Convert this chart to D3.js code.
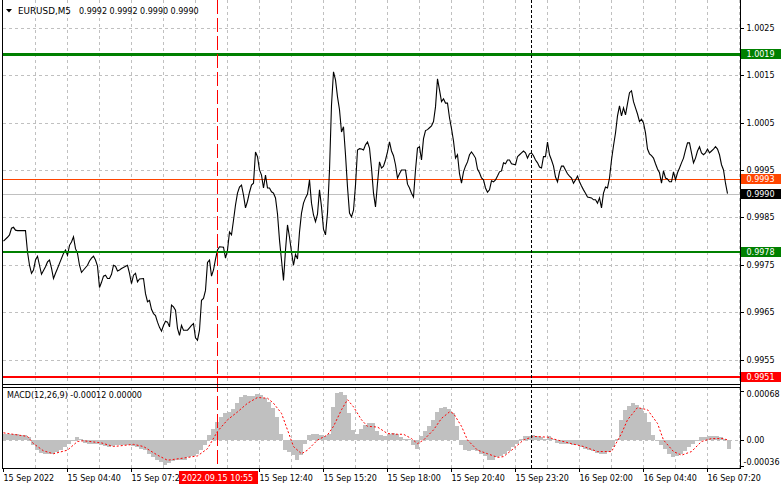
<!DOCTYPE html>
<html><head><meta charset="utf-8">
<script src="https://cdn.jsdelivr.net/npm/d3@7"></script>
<style>
body{margin:0;background:#fff}
svg{display:block;font-family:"DejaVu Sans",sans-serif;font-size:8px}
text{white-space:pre}
</style>
</head><body><svg id="c" width="781" height="489"></svg>
<script>
// ---------------- data ----------------
const symbolTitle = "EURUSD,M5";
const ohlcText = ["0.9992", "0.9992", "0.9990", "0.9990"];
const macdTitle = "MACD(12,26,9) -0.00012 0.00000";

const timeLabelBars = [0, 32, 64, 128, 160, 192, 224, 256, 288, 320, 352];
const timeLabels = ["15 Sep 2022", "15 Sep 04:40", "15 Sep 07:20", "15 Sep 12:40", "15 Sep 15:20",
  "15 Sep 18:00", "15 Sep 20:40", "15 Sep 23:20", "16 Sep 02:00", "16 Sep 04:40", "16 Sep 07:20"];
const priceTicks = [0.9955, 0.9965, 0.9975, 0.9985, 0.9995, 1.0005, 1.0015, 1.0025];
const macdTicks = [0.00068, 0, -0.00036];
const macdTickText = ["0.00068", "0.00", "-0.00036"];

// support / resistance levels
const levelVals = [1.00195, 0.99776, 0.99514];
const levelText = ["1.0019", "0.9978", "0.9951"];
const levelColors = ["#008000", "#008000", "#ff0000"];
const askPrice = 0.9993, bidPrice = 0.9990;

// markers
const markerBar = 107;             // 2022.09.15 10:55
const markerText = "2022.09.15 10:55";
const daySepBar = 264;             // 16 Sep 00:00

// close prices [bar, close]
const closeSeries = [
[0,0.99800],[2,0.99808],[3,0.99813],[4,0.99827],[5,0.99829],[6,0.99823],[7,0.99822],[11,0.99822],[12,0.99777],
[13,0.99749],[14,0.99732],[15,0.99739],[16,0.99760],[17,0.99768],[18,0.99749],[19,0.99730],[21,0.99746],[22,0.99756],
[23,0.99760],[24,0.99743],[25,0.99721],[26,0.99732],[27,0.99742],[28,0.99753],[30,0.99774],[31,0.99781],[32,0.99770],
[33,0.99791],[34,0.99798],[35,0.99809],[36,0.99784],[37,0.99774],[38,0.99749],[39,0.99734],[40,0.99739],[42,0.99749],
[43,0.99758],[44,0.99764],[45,0.99768],[46,0.99760],[47,0.99747],[48,0.99702],[49,0.99713],[50,0.99726],[51,0.99728],
[52,0.99721],[53,0.99721],[54,0.99730],[55,0.99749],[56,0.99747],[57,0.99737],[58,0.99739],[59,0.99742],[62,0.99749],
[63,0.99732],[64,0.99710],[65,0.99728],[66,0.99732],[67,0.99714],[68,0.99720],[70,0.99721],[71,0.99689],[72,0.99672],
[73,0.99675],[74,0.99656],[75,0.99647],[76,0.99643],[77,0.99629],[78,0.99618],[79,0.99610],[80,0.99622],[81,0.99631],
[82,0.99629],[83,0.99619],[84,0.99665],[85,0.99661],[86,0.99654],[87,0.99616],[88,0.99601],[89,0.99622],[90,0.99612],
[92,0.99612],[93,0.99617],[94,0.99622],[95,0.99626],[96,0.99596],[97,0.99591],[98,0.99612],[99,0.99675],[100,0.99679],
[101,0.99696],[102,0.99755],[103,0.99760],[104,0.99726],[105,0.99739],[106,0.99762],[107,0.99781],[108,0.99788],
[110,0.99787],[111,0.99764],[112,0.99781],[113,0.99819],[114,0.99813],[115,0.99844],[116,0.99876],[117,0.99901],
[118,0.99914],[119,0.99918],[120,0.99897],[121,0.99870],[122,0.99884],[123,0.99903],[124,0.99918],[125,0.99922],
[126,0.99988],[127,0.99978],[128,0.99950],[129,0.99939],[130,0.99912],[131,0.99939],[132,0.99912],[133,0.99912],
[134,0.99904],[135,0.99901],[136,0.99891],[137,0.99857],[138,0.99802],[139,0.99760],[140,0.99717],[141,0.99781],
[142,0.99834],[143,0.99808],[144,0.99777],[145,0.99749],[146,0.99772],[147,0.99762],[148,0.99819],[149,0.99859],
[150,0.99880],[151,0.99891],[152,0.99899],[153,0.99929],[154,0.99880],[155,0.99855],[156,0.99841],[157,0.99857],
[158,0.99908],[159,0.99872],[160,0.99825],[161,0.99813],[162,0.99859],[163,0.99950],[164,1.00087],[165,1.00157],
[166,1.00140],[167,1.00104],[168,1.00077],[169,1.00030],[170,1.00041],[171,0.99982],[172,0.99914],[173,0.99859],
[174,0.99851],[175,0.99865],[176,0.99918],[177,0.99992],[178,0.99995],[179,0.99994],[180,0.99992],[181,1.00003],
[182,1.00009],[183,0.99996],[184,0.99954],[185,0.99901],[186,0.99872],[187,0.99922],[188,0.99967],[189,0.99954],
[190,0.99958],[191,0.99971],[192,0.99988],[193,1.00009],[194,0.99990],[195,0.99980],[196,0.99961],[197,0.99933],
[198,0.99942],[199,0.99950],[201,0.99950],[202,0.99920],[203,0.99912],[204,0.99901],[205,0.99893],[206,0.99950],
[207,0.99996],[208,0.99999],[209,0.99971],[210,1.00016],[211,1.00033],[212,1.00035],[213,1.00039],[214,1.00043],
[215,1.00052],[216,1.00083],[217,1.00142],[218,1.00119],[219,1.00094],[220,1.00100],[221,1.00091],[222,1.00091],
[223,1.00060],[224,1.00037],[225,1.00011],[226,0.99975],[227,0.99982],[228,0.99942],[229,0.99922],[230,0.99946],
[231,0.99958],[232,0.99967],[233,0.99982],[234,0.99988],[235,0.99982],[236,0.99975],[237,0.99952],[238,0.99944],
[239,0.99933],[240,0.99929],[241,0.99912],[242,0.99903],[243,0.99908],[244,0.99927],[245,0.99925],[246,0.99929],
[247,0.99937],[248,0.99946],[249,0.99948],[250,0.99965],[251,0.99963],[252,0.99971],[253,0.99971],[254,0.99963],
[256,0.99961],[257,0.99978],[258,0.99982],[259,0.99986],[260,0.99990],[261,0.99986],[262,0.99975],[263,0.99984],
[264,0.99986],[265,0.99980],[266,0.99971],[267,0.99965],[268,0.99956],[269,0.99954],[270,0.99978],[271,0.99978],
[272,1.00009],[273,0.99982],[274,0.99971],[275,0.99958],[276,0.99935],[277,0.99925],[278,0.99946],[279,0.99958],
[280,0.99958],[281,0.99950],[282,0.99942],[283,0.99937],[284,0.99933],[285,0.99922],[286,0.99929],[287,0.99937],
[288,0.99925],[289,0.99916],[290,0.99908],[291,0.99901],[292,0.99893],[294,0.99891],[295,0.99887],[296,0.99887],
[297,0.99880],[298,0.99891],[299,0.99870],[300,0.99901],[301,0.99914],[302,0.99912],[303,0.99933],[304,0.99971],
[305,1.00001],[306,1.00028],[307,1.00064],[308,1.00085],[309,1.00064],[310,1.00081],[311,1.00066],[312,1.00090],
[313,1.00113],[314,1.00117],[315,1.00094],[316,1.00081],[317,1.00068],[318,1.00052],[319,1.00057],[320,1.00049],
[321,1.00028],[322,0.99994],[323,0.99984],[324,0.99980],[325,0.99975],[326,0.99963],[327,0.99952],[328,0.99944],
[329,0.99922],[330,0.99948],[331,0.99933],[332,0.99931],[333,0.99925],[334,0.99925],[335,0.99946],[336,0.99929],
[337,0.99944],[338,0.99954],[339,0.99965],[340,0.99975],[341,0.99992],[342,1.00007],[343,1.00007],[344,0.99986],
[345,0.99965],[346,0.99975],[347,0.99990],[348,0.99999],[349,0.99986],[350,0.99982],[351,0.99986],[352,0.99994],
[353,0.99986],[354,0.99990],[355,0.99994],[356,0.99999],[357,0.99994],[358,0.99982],[359,0.99961],[360,0.99950],
[361,0.99922],[362,0.99900]
];

// MACD main (histogram), one reading per two bars, starting at bar 0
const macdHist = [
8e-5,8e-5,8e-5,8e-5,7e-5,7e-5,4e-5,-7e-5,-14e-5,-18e-5,-19e-5,-19e-5,-19e-5,-16e-5,-14e-5,-9e-5,-6e-5,0,4e-5,1e-5,
-4e-5,-5e-5,-5e-5,-6e-5,-7e-5,-8e-5,-9e-5,-8e-5,-7e-5,-7e-5,-7e-5,-7e-5,-8e-5,-9e-5,-12e-5,-14e-5,-19e-5,-24e-5,-28e-5,-31e-5,
-35e-5,-32e-5,-29e-5,-28e-5,-28e-5,-27e-5,-24e-5,-22e-5,-19e-5,-14e-5,-7e-5,7e-5,16e-5,25e-5,32e-5,37e-5,39e-5,43e-5,51e-5,60e-5,
63e-5,61e-5,61e-5,64e-5,63e-5,58e-5,53e-5,44e-5,32e-5,9e-5,-14e-5,-16e-5,-21e-5,-27e-5,-21e-5,-5e-5,7e-5,9e-5,9e-5,7e-5,
6e-5,9e-5,46e-5,65e-5,67e-5,63e-5,37e-5,14e-5,9e-5,16e-5,21e-5,23e-5,23e-5,12e-5,7e-5,6e-5,9e-5,10e-5,9e-5,4e-5,
2e-5,1e-5,-7e-5,-12e-5,5e-5,12e-5,19e-5,28e-5,39e-5,45e-5,46e-5,43e-5,37e-5,19e-5,-7e-5,-14e-5,-15e-5,-14e-5,-15e-5,-19e-5,
-22e-5,-27e-5,-27e-5,-24e-5,-22e-5,-19e-5,-15e-5,-9e-5,-5e-5,1e-5,5e-5,6e-5,7e-5,6e-5,4e-5,2e-5,5e-5,1e-5,-4e-5,-5e-5,
-6e-5,-6e-5,-7e-5,-7e-5,-9e-5,-12e-5,-14e-5,-15e-5,-18e-5,-19e-5,-19e-5,-16e-5,-9e-5,2e-5,28e-5,41e-5,47e-5,51e-5,49e-5,44e-5,
37e-5,25e-5,7e-5,-2e-5,-7e-5,-13e-5,-19e-5,-23e-5,-22e-5,-19e-5,-15e-5,-9e-5,-5e-5,-1e-5,4e-5,4e-5,5e-5,6e-5,5e-5,4e-5,
2e-5,-12e-5
];

// MACD signal [bar, value]
const macdSignal = [
[0,10e-5],[12,5e-5],[15,-5e-5],[20,-15e-5],[25,-19e-5],[32,-14e-5],[37,-2e-5],[40,-1e-5],[49,-4e-5],[55,-9e-5],
[65,-6e-5],[70,-9e-5],[77,-21e-5],[82,-28e-5],[90,-25e-5],[97,-22e-5],[102,-12e-5],[107,12e-5],[112,28e-5],[117,39e-5],
[122,51e-5],[127,59e-5],[132,58e-5],[135,51e-5],[139,37e-5],[142,14e-5],[145,-9e-5],[149,-19e-5],[152,-14e-5],[157,0],
[162,7e-5],[165,19e-5],[169,42e-5],[172,56e-5],[175,46e-5],[179,28e-5],[182,19e-5],[187,18e-5],[192,9e-5],[197,8e-5],
[200,8e-5],[204,2e-5],[207,-5e-5],[210,0],[215,14e-5],[219,30e-5],[223,39e-5],[225,37e-5],[229,19e-5],[232,0],
[237,-14e-5],[242,-19e-5],[247,-24e-5],[250,-23e-5],[255,-12e-5],[260,0],[265,5e-5],[272,4e-5],[277,0],[284,-5e-5],
[290,-9e-5],[297,-16e-5],[304,-16e-5],[309,9e-5],[312,28e-5],[317,45e-5],[322,42e-5],[327,23e-5],[330,0],[335,-16e-5],
[339,-21e-5],[344,-16e-5],[349,-2e-5],[354,2e-5],[360,2e-5],[362,0]
];

// ---------------- drawing ----------------
const svg = d3.select("#c");
const L = 3, R = 740, mainTop = 0, mainBot = 384, macdTopY = 387, macdBot = 468;
const cr = v => Math.round(v) + 0.5;

const x = d3.scaleLinear().domain([0, 368.5]).range([L, R]);
const y = d3.scaleLinear().domain([0.9955, 1.0025]).range([359.6, 27.7]);
const ym = d3.scaleLinear().domain([-0.00036, 0.00068]).range([466, 391]);

const defs = svg.append("defs");
defs.append("clipPath").attr("id", "cm").append("rect").attr("x", L).attr("y", mainTop).attr("width", R - L).attr("height", mainBot - mainTop);
defs.append("clipPath").attr("id", "cd").append("rect").attr("x", L).attr("y", macdTopY).attr("width", R - L).attr("height", macdBot - macdTopY);

const gridColor = "#c0c0c0";
const vGridBars = d3.range(16, 369, 16);

// main panel
const gm = svg.append("g").attr("clip-path", "url(#cm)").attr("shape-rendering", "crispEdges");
gm.selectAll(".vg").data(vGridBars).join("line")
  .attr("x1", d => cr(x(d))).attr("x2", d => cr(x(d))).attr("y1", mainTop).attr("y2", mainBot)
  .attr("stroke", gridColor).attr("stroke-dasharray", "3,3");
gm.selectAll(".hg").data(priceTicks).join("line")
  .attr("x1", L).attr("x2", R).attr("y1", d => cr(y(d))).attr("y2", d => cr(y(d)))
  .attr("stroke", gridColor).attr("stroke-dasharray", "3,3");

// bid / ask lines
gm.append("line").attr("x1", L).attr("x2", R).attr("y1", cr(y(bidPrice))).attr("y2", cr(y(bidPrice)))
  .attr("stroke", "#c0c0c0");
gm.append("line").attr("x1", L).attr("x2", R).attr("y1", cr(y(askPrice))).attr("y2", cr(y(askPrice)))
  .attr("stroke", "#ff4500");

// price line
gm.append("path").datum(closeSeries)
  .attr("d", d3.line().x(d => x(d[0]) + 0.5).y(d => y(d[1])))
  .attr("fill", "none").attr("stroke", "#000").attr("stroke-width", 1.1)
  .attr("shape-rendering", "auto");

// levels
gm.selectAll(".lv").data(levelVals).join("line")
  .attr("x1", L).attr("x2", R).attr("y1", d => Math.round(y(d)) + (0)).attr("y2", d => Math.round(y(d)))
  .attr("stroke", (d, i) => levelColors[i]).attr("stroke-width", (d, i) => i === 0 ? 3 : 2);

// macd panel
const gd = svg.append("g").attr("clip-path", "url(#cd)").attr("shape-rendering", "crispEdges");
gd.selectAll(".vg").data(vGridBars).join("line")
  .attr("x1", d => cr(x(d))).attr("x2", d => cr(x(d))).attr("y1", macdTopY).attr("y2", macdBot)
  .attr("stroke", gridColor).attr("stroke-dasharray", "3,3");
gd.append("line").attr("x1", L).attr("x2", R).attr("y1", cr(ym(0))).attr("y2", cr(ym(0)))
  .attr("stroke", gridColor).attr("stroke-dasharray", "3,3");
gd.selectAll(".hb").data(macdHist).join("rect")
  .attr("x", (d, i) => x(i * 2)).attr("width", 4)
  .attr("y", d => Math.min(ym(d), ym(0))).attr("height", d => Math.max(1, Math.abs(ym(d) - ym(0))))
  .attr("fill", "#c0c0c0");
gd.append("path").datum(macdSignal)
  .attr("d", d3.line().x(d => x(d[0]) + 0.5).y(d => ym(d[1])))
  .attr("fill", "none").attr("stroke", "#ff0000").attr("stroke-dasharray", "2,2")
  .attr("shape-rendering", "auto");

// vertical markers across both panels
const gv = svg.append("g").attr("shape-rendering", "crispEdges");
gv.append("line").attr("x1", cr(x(daySepBar))).attr("x2", cr(x(daySepBar))).attr("y1", mainTop).attr("y2", macdBot)
  .attr("stroke", "#000").attr("stroke-dasharray", "3,2");
gv.append("line").attr("x1", cr(x(markerBar))).attr("x2", cr(x(markerBar))).attr("y1", mainTop).attr("y2", macdBot)
  .attr("stroke", "#ff0000").attr("stroke-dasharray", "14,4");

// frames
const gf = svg.append("g").attr("shape-rendering", "crispEdges").attr("stroke", "#000").attr("fill", "none");
gf.append("line").attr("x1", 2.5).attr("x2", 2.5).attr("y1", 0).attr("y2", macdBot + 0.5);
gf.append("line").attr("x1", R + 0.5).attr("x2", R + 0.5).attr("y1", 0).attr("y2", macdBot + 0.5);
gf.append("line").attr("x1", 2).attr("x2", R + 1).attr("y1", mainBot + 0.5).attr("y2", mainBot + 0.5);
gf.append("line").attr("x1", 2).attr("x2", R + 1).attr("y1", macdTopY + 0.5).attr("y2", macdTopY + 0.5);
gf.append("line").attr("x1", 2).attr("x2", R + 1).attr("y1", macdBot + 0.5).attr("y2", macdBot + 0.5);

// price axis
gf.selectAll(".pt").data(priceTicks).join("line")
  .attr("x1", R).attr("x2", R + 4).attr("y1", d => cr(y(d))).attr("y2", d => cr(y(d)));
svg.selectAll(".pl").data(priceTicks).join("text")
  .attr("x", 746.5).attr("y", d => y(d) + 3).attr("fill", "#000").text(d => d.toFixed(4));

// macd axis
gf.selectAll(".mt").data(macdTicks).join("line")
  .attr("x1", R).attr("x2", R + 4).attr("y1", d => cr(ym(d))).attr("y2", d => cr(ym(d)));
svg.selectAll(".ml").data(macdTicks).join("text")
  .attr("x", (d, i) => d < 0 ? 743.5 : 746.5)
  .attr("y", d => Math.max(394, Math.min(461.5, ym(d))) + 3).attr("fill", "#000")
  .text((d, i) => macdTickText[i]);

// boxed price labels
const boxes = [
  {v: levelVals[0], t: levelText[0], c: levelColors[0]},
  {v: askPrice, t: askPrice.toFixed(4), c: "#ff4500"},
  {v: bidPrice, t: bidPrice.toFixed(4), c: "#000000"},
  {v: levelVals[1], t: levelText[1], c: levelColors[1]},
  {v: levelVals[2], t: levelText[2], c: levelColors[2]}
];
const gb = svg.append("g");
gb.selectAll("rect").data(boxes).join("rect")
  .attr("x", 741).attr("width", 40).attr("y", d => Math.round(y(d.v)) - 5).attr("height", 10)
  .attr("fill", d => d.c).attr("shape-rendering", "crispEdges");
gb.selectAll("text").data(boxes).join("text")
  .attr("x", 746.5).attr("y", d => Math.round(y(d.v)) + 3).attr("fill", "#fff").text(d => d.t);

// time axis
gf.selectAll(".tt").data(timeLabelBars).join("line")
  .attr("x1", d => cr(x(d))).attr("x2", d => cr(x(d))).attr("y1", macdBot).attr("y2", macdBot + 4);
svg.selectAll(".tl").data(timeLabelBars).join("text")
  .attr("x", d => x(d) + 0.5).attr("y", 481).attr("fill", "#000").text((d, i) => timeLabels[i]);

// marker date label
const mx = x(markerBar) + 0.5;
svg.append("rect").attr("x", Math.round(mx - 39)).attr("y", 471).attr("width", 79).attr("height", 13)
  .attr("fill", "#ff0000").attr("shape-rendering", "crispEdges");
svg.append("text").attr("x", mx).attr("y", 481).attr("text-anchor", "middle").attr("fill", "#fff").text(markerText);

// titles
svg.append("path").attr("d", "M6,9 L12,9 L9,12.5 Z").attr("fill", "#000");
svg.append("text").attr("x", 18).attr("y", 13.5).attr("fill", "#000").style("font-size", "8.8px").text(symbolTitle);
svg.append("text").attr("x", 79).attr("y", 13.5).attr("fill", "#000").text(ohlcText.join(" "));
svg.append("text").attr("x", 7).attr("y", 398).attr("fill", "#000").text(macdTitle);
</script>
</body></html>
